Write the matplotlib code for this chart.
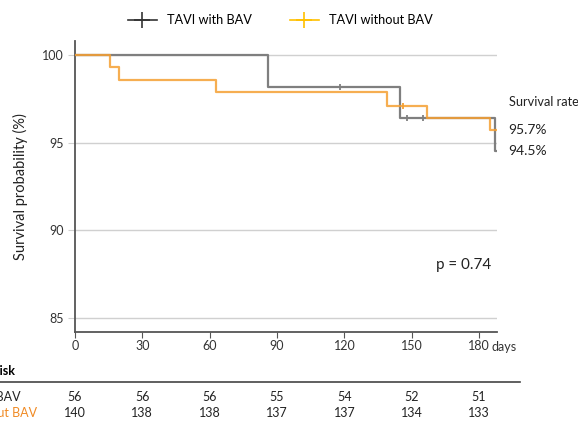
import matplotlib.pyplot as plt

plt.rcParams['font.family'] = ['Lato', 'DejaVu Sans']

# Kaplan-Meier step data (days, survival %)
t_bav = [0, 86, 145, 187, 188]
s_bav = [100, 98.2, 96.4, 94.5, 94.5]
cens_t_bav = [118, 148, 155]
cens_s_bav = [98.2, 96.4, 96.4]

t_nobav = [0, 15.6, 19.6, 62.8, 139, 157, 185, 188]
s_nobav = [100, 99.3, 98.6, 97.9, 97.1, 96.4, 95.7, 95.7]
cens_t_nobav = [146]
cens_s_nobav = [97.1]

xticks = [0, 30, 60, 90, 120, 150, 180]
yticks = [85, 90, 95, 100]
risk_bav = [56, 56, 56, 55, 54, 52, 51]
risk_nobav = [140, 138, 138, 137, 137, 134, 133]
rate_bav = 94.5
rate_nobav = 95.7
p_value = 0.74

GRAY = '#7f7f7f'
ORANGE = '#f5a033'

W, H = 578, 421
fig = plt.figure(figsize=(W / 100, H / 100), dpi=100)
ax = fig.add_axes([75 / W, 1 - 332 / H, (497 - 75) / W, (332 - 40.7) / H])

ax.step(t_bav, s_bav, where='post', color=GRAY, lw=1.6, zorder=3)
ax.plot(cens_t_bav, cens_s_bav, ls='none', marker='|', ms=5, mew=1.3, color=GRAY, zorder=3)
ax.step(t_nobav, s_nobav, where='post', color=ORANGE, lw=1.6, alpha=0.85, zorder=4)
ax.plot(cens_t_nobav, cens_s_nobav, ls='none', marker='|', ms=5, mew=1.3, color=ORANGE, zorder=4)

ax.set_xlim(0, 188)
ax.set_ylim(84.2, 100.82)
ax.set_xticks(xticks)
ax.set_xticklabels([str(v) for v in xticks])
ax.set_yticks(yticks)
ax.grid(axis='y', color='#d0d0d0', lw=1)
ax.tick_params(axis='y', length=5, color='#d0d0d0', labelsize=9, labelcolor='#333333', pad=3)
ax.tick_params(axis='x', length=4, color='#555555', labelsize=9, labelcolor='#333333', pad=2)
for side in ['top', 'right']:
    ax.spines[side].set_visible(False)
for side in ['left', 'bottom']:
    ax.spines[side].set_color('#555555')
    ax.spines[side].set_linewidth(1.3)
ax.set_ylabel('Survival probability (%)', fontsize=10.5, color='#222222', labelpad=10)
ax.annotate('days', xy=(180, 0), xycoords=ax.get_xaxis_transform(), xytext=(9, -6.2),
            textcoords='offset points', fontsize=9, color='#333333', ha='left', va='top')

ax.text(0.92, 0.215, f'p = {p_value}', fontsize=11, color='#222222', ha='center', transform=ax.transAxes)

# survival rates on the right
fig.text(509 / W, 1 - 102 / H, 'Survival rate', fontsize=9.2, color='#222222', ha='left', va='center')
ax.text(193, rate_nobav, f'{rate_nobav}%', fontsize=10, color='#222222', ha='left', va='center', clip_on=False)
ax.text(193, rate_bav, f'{rate_bav}%', fontsize=10, color='#222222', ha='left', va='center', clip_on=False)

# legend
h1, = ax.plot([], [], color='#333333', lw=1.2, marker='+', ms=11, mew=1.2)
h2, = ax.plot([], [], color='#ffc000', lw=1.2, marker='+', ms=11, mew=1.2)
fig.legend([h1, h2], ['TAVI with BAV', 'TAVI without BAV'], ncol=2, loc='center',
           bbox_to_anchor=(280 / W, 1 - 20 / H), frameon=False, fontsize=9.2,
           handlelength=2.27, columnspacing=2.97, handletextpad=0.78)

# number at risk table
fig.text(15 / W, 1 - 371 / H, 'No. at risk', fontsize=9, fontweight='bold', ha='right', va='center')
fig.add_artist(plt.Line2D([0, 520 / W], [1 - 382 / H, 1 - 382 / H], color='#444444', lw=1.2))
fig.text(21 / W, 1 - 397 / H, 'TAVI with BAV', fontsize=9, ha='right', va='center', color='#222222')
fig.text(37 / W, 1 - 413 / H, 'TAVI without BAV', fontsize=9, ha='right', va='center', color='#f08a24')
for x, a, b in zip(xticks, risk_bav, risk_nobav):
    xf = fig.transFigure.inverted().transform(ax.transData.transform((x, 90)))[0]
    fig.text(xf, 1 - 397 / H, str(a), fontsize=9, ha='center', va='center', color='#222222')
    fig.text(xf, 1 - 413 / H, str(b), fontsize=9, ha='center', va='center', color='#222222')

fig.savefig('out.png', dpi=100)
